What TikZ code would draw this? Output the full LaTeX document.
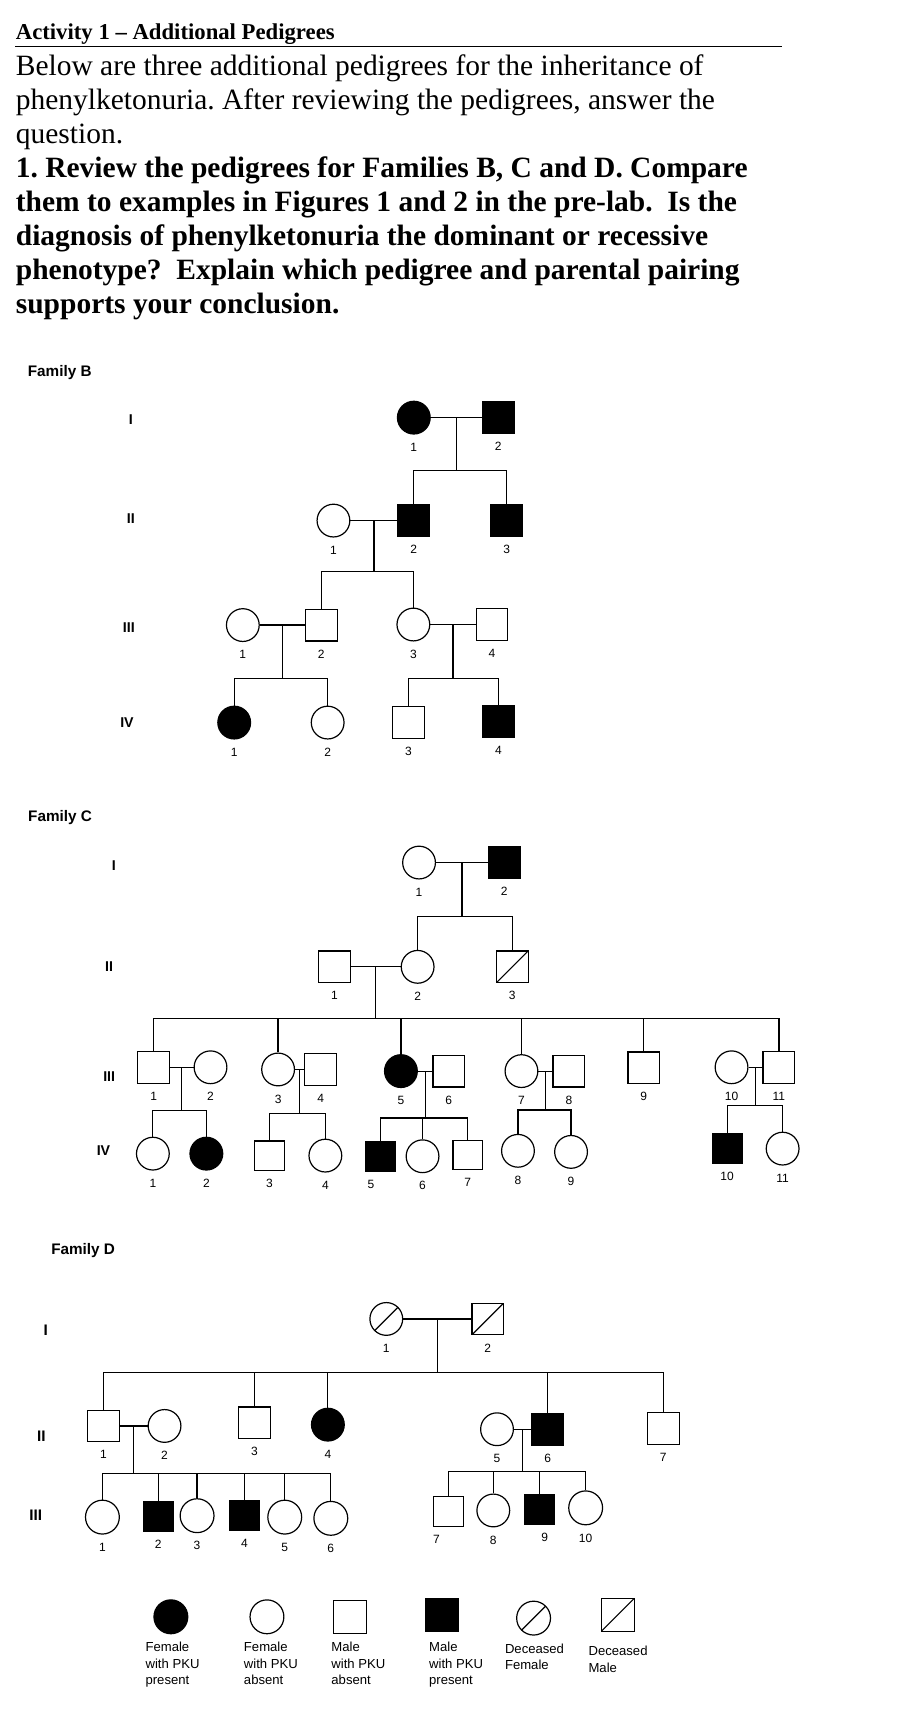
\documentclass[tikz,border=0pt]{standalone}
\usepackage{fontspec}
\setmainfont{Liberation Serif}
\setsansfont{Liberation Sans}
\usepackage{tikz}
\frenchspacing

\begin{document}
\begin{tikzpicture}[
    x=1pt, y=-1pt,
    line width=1.1pt,
    label distance=6pt,
    fem/.style={
        circle,
        draw=black,
        minimum size=30pt,
        inner sep=0pt,
    },
    mal/.style={
        rectangle,
        draw=black,
        minimum size=29pt,
        inner sep=0pt,
    },
    aff/.style={fill=black},
    sm/.style={minimum size=27pt},
    big/.style={minimum size=31pt},
    dec/.style={
        path picture={\draw (path picture bounding box.south west) -- (path picture bounding box.north east);},
    },
    idnum/.style={font=\sffamily\fontsize{11}{13}\selectfont, inner sep=1pt},
    n/.style={label={[idnum]below:#1}},
    gen/.style={font=\sffamily\bfseries\fontsize{13}{15}\selectfont, inner sep=0pt},
    famlabel/.style={font=\sffamily\bfseries\fontsize{14}{16}\selectfont, anchor=west, inner sep=0pt},
    keytext/.style={font=\sffamily\fontsize{12}{15.5}\selectfont, align=left, anchor=north west, inner sep=0pt},
    txt/.style={anchor=base west, inner sep=0pt, font=\fontsize{27}{31}\selectfont},
]
\fill[white] (0,0) rectangle (822,1568);
\useasboundingbox (0,0) rectangle (822,1568);

\node[anchor=base west, inner sep=0pt, font=\fontsize{20.8}{24}\selectfont\bfseries] (title) at (14,36) {Activity 1 -- Additional Pedigrees};
\draw[line width=1.4pt] (14,42.8) -- (716,42.8);
\node[txt] (intro1) at (14,69) {Below are three additional pedigrees for the inheritance of};
\node[txt] (intro2) at (14,100) {phenylketonuria. After reviewing the pedigrees, answer the};
\node[txt] (intro3) at (14,131) {question.};
\node[txt,font=\fontsize{27}{31}\selectfont\bfseries] (q1) at (14,163) {1. Review the pedigrees for Families B, C and D. Compare};
\node[txt,font=\fontsize{27}{31}\selectfont\bfseries] (q2) at (14,194) {them to examples in Figures 1 and 2 in the pre-lab.\ \ Is the};
\node[txt,font=\fontsize{27}{31}\selectfont\bfseries] (q3) at (14,225) {diagnosis of phenylketonuria the dominant or recessive};
\node[txt,font=\fontsize{27}{31}\selectfont\bfseries] (q4) at (14,256) {phenotype?\ \ Explain which pedigree and parental pairing};
\node[txt,font=\fontsize{27}{31}\selectfont\bfseries] (q5) at (14,287) {supports your conclusion.};

\node[famlabel] (famB) at (25,341.5) {Family B};
\node[gen] (bgI) at (119.8,384.3) {I};
\node[gen] (bgII) at (119.8,475) {II};
\node[gen] (bgIII) at (118,575) {III};
\node[gen] (bgIV) at (116.3,661.4) {IV};

\node[fem,aff,n=1] (bI1) at (379,382.5) {};
\node[mal,aff,n=2] (bI2) at (456.3,382.5) {};
\node[fem,n=1] (bII1) at (305.4,476.8) {};
\node[mal,aff,n=2] (bII2) at (379,476.8) {};
\node[mal,aff,n=3] (bII3) at (464,476.8) {};
\node[fem,n=1] (bIII1) at (222.4,572.5) {};
\node[mal,n=2] (bIII2) at (294.3,572.5) {};
\node[fem,n=3] (bIII3) at (378.6,572) {};
\node[mal,n=4] (bIII4) at (450.6,572) {};
\node[fem,aff,n=1] (bIV1) at (214.5,661.8) {};
\node[fem,n=2] (bIV2) at (300.1,661.8) {};
\node[mal,n=3] (bIV3) at (374.2,661.8) {};
\node[mal,aff,n=4] (bIV4) at (456.5,660.5) {};

\draw (bI1) -- coordinate (bm1) (bI2);
\draw (bm1) -- (bm1 |- 0,430.7) coordinate (bs1);
\foreach \c in {bII2,bII3} \draw (\c.north) |- (bs1);
\draw (bII1) -- coordinate (bm2) (bII2);
\draw (bm2) -- (bm2 |- 0,523.3) coordinate (bs2);
\foreach \c in {bIII2,bIII3} \draw (\c.north) |- (bs2);
\draw (bIII1) -- coordinate (bm3) (bIII2);
\draw (bm3) -- (bm3 |- 0,621.6) coordinate (bs3);
\foreach \c in {bIV1,bIV2} \draw (\c.north) |- (bs3);
\draw (bIII3) -- coordinate (bm4) (bIII4);
\draw (bm4) -- (bm4 |- 0,621.6) coordinate (bs4);
\foreach \c in {bIV3,bIV4} \draw (\c.north) |- (bs4);

\node[famlabel] (famC) at (25.3,748.4) {Family C};
\node[gen] (cgI) at (104.3,792.7) {I};
\node[gen] (cgII) at (100,885) {II};
\node[gen] (cgIII) at (100,986) {III};
\node[gen] (cgIV) at (94.8,1054) {IV};

\node[fem,n=1] (cI1) at (383.8,790) {};
\node[mal,aff,n=2] (cI2) at (461.8,790) {};
\node[mal,n=1] (cII1) at (306.4,885.5) {};
\node[fem,n=2] (cII2) at (382.5,885.5) {};
\node[mal,dec,n=3] (cII3) at (469.2,885.5) {};
\node[mal,n=1] (cIII1) at (140.7,977.5) {};
\node[fem,n=2] (cIII2) at (192.8,977.5) {};
\node[fem,n=3] (cIII3) at (254.7,979.5) {};
\node[mal,n=4] (cIII4) at (293.7,979.5) {};
\node[fem,aff,n=5] (cIII5) at (367.2,981) {};
\node[mal,n=6] (cIII6) at (411,981) {};
\node[fem,n=7] (cIII7) at (477.6,981) {};
\node[mal,n=8] (cIII8) at (521,981) {};
\node[mal,n=9] (cIII9) at (589.6,978) {};
\node[fem,n=10] (cIII10) at (670,977.5) {};
\node[mal,n=11] (cIII11) at (713.4,977.5) {};
\node[fem,n=1] (cIV1) at (140,1056.6) {};
\node[fem,aff,n=2] (cIV2) at (189,1056.6) {};
\node[mal,sm,n=3] (cIV3) at (246.8,1058.6) {};
\node[fem,n=4] (cIV4) at (298,1058.4) {};
\node[mal,aff,sm,label={[idnum,xshift=-9pt]below:5}] (cIV5) at (348.8,1059) {};
\node[fem,n=6] (cIV6) at (387,1059) {};
\node[mal,sm,n=7] (cIV7) at (428.4,1057.8) {};
\node[fem,n=8] (cIV8) at (474.4,1054) {};
\node[fem,n=9] (cIV9) at (523,1055) {};
\node[mal,aff,sm,n=10] (cIV10) at (666,1052) {};
\node[fem,n=11] (cIV11) at (716.8,1052) {};

\draw (cI1) -- coordinate (cm1) (cI2);
\draw (cm1) -- (cm1 |- 0,839.5) coordinate (cs1);
\foreach \c in {cII2,cII3} \draw (\c.north) |- (cs1);
\draw (cII1) -- coordinate (cm2) (cII2);
\draw (cm2) -- (cm2 |- 0,932.6) coordinate (cs2);
\foreach \c in {cIII1,cIII3,cIII5,cIII7,cIII9,cIII11} \draw (\c.north) |- (cs2);
\draw (cIII1) -- coordinate (cm3) (cIII2);
\draw (cm3) -- (cm3 |- 0,1017) coordinate (cs3);
\foreach \c in {cIV1,cIV2} \draw (\c.north) |- (cs3);
\draw (cIII3) -- coordinate (cm4) (cIII4);
\draw (cm4) -- (cm4 |- 0,1019.7) coordinate (cs4);
\foreach \c in {cIV3,cIV4} \draw (\c.north) |- (cs4);
\draw (cIII5) -- coordinate (cm5) (cIII6);
\draw (cm5) -- (cm5 |- 0,1024) coordinate (cs5);
\foreach \c in {cIV5,cIV6,cIV7} \draw (\c.north) |- (cs5);
\draw (cIII7) -- coordinate (cm6) (cIII8);
\draw (cm6) -- (cm6 |- 0,1016.6) coordinate (cs6);
\foreach \c in {cIV8,cIV9} \draw (\c.north) |- (cs6);
\draw (cIII10) -- coordinate (cm7) (cIII11);
\draw (cm7) -- (cm7 |- 0,1012.7) coordinate (cs7);
\foreach \c in {cIV10,cIV11} \draw (\c.north) |- (cs7);

\node[famlabel] (famD) at (46.4,1145.5) {Family D};
\node[gen,font=\sffamily\bfseries\fontsize{14}{16}\selectfont] (dgI) at (42,1218.2) {I};
\node[gen,font=\sffamily\bfseries\fontsize{14}{16}\selectfont] (dgII) at (38,1315) {II};
\node[gen,font=\sffamily\bfseries\fontsize{14}{16}\selectfont] (dgIII) at (32.7,1387.5) {III};

\node[fem,dec,n=1] (dI1) at (353.8,1208) {};
\node[mal,dec,n=2] (dI2) at (446.8,1208) {};
\node[mal,n=1] (dII1) at (94.8,1306) {};
\node[fem,n=2] (dII2) at (150.7,1306) {};
\node[mal,n=3] (dII3) at (233.1,1303.2) {};
\node[fem,aff,n=4] (dII4) at (300.3,1304.8) {};
\node[fem,n=5] (dII5) at (455.2,1309) {};
\node[mal,aff,n=6] (dII6) at (501.6,1309) {};
\node[mal,n=7] (dII7) at (607.5,1308.5) {};
\node[fem,big,n=1] (dIII1) at (93.8,1389.5) {};
\node[mal,aff,sm,n=2] (dIII2) at (144.9,1388.7) {};
\node[fem,big,n=3] (dIII3) at (180.5,1388.2) {};
\node[mal,aff,sm,n=4] (dIII4) at (223.9,1387.8) {};
\node[fem,big,n=5] (dIII5) at (260.8,1389.5) {};
\node[fem,big,n=6] (dIII6) at (303,1390.6) {};
\node[mal,sm,label={[idnum,xshift=-11pt]below:7}] (dIII7) at (410.7,1384.4) {};
\node[fem,n=8] (dIII8) at (451.8,1383.4) {};
\node[mal,aff,sm,label={[idnum,xshift=5pt]below:9}] (dIII9) at (494,1382.6) {};
\node[fem,big,n=10] (dIII10) at (536.4,1381) {};

\draw (dI1) -- coordinate (dm1) (dI2);
\draw (dm1) -- (dm1 |- 0,1257) coordinate (ds1);
\foreach \c in {dII1,dII3,dII4,dII6,dII7} \draw (\c.north) |- (ds1);
\draw (dII1) -- coordinate (dm2) (dII2);
\draw (dm2) -- (dm2 |- 0,1349.3) coordinate (ds2);
\foreach \c in {dIII1,dIII2,dIII3,dIII4,dIII5,dIII6} \draw (\c.north) |- (ds2);
\draw (dII5) -- coordinate (dm3) (dII6);
\draw (dm3) -- (dm3 |- 0,1347.8) coordinate (ds3);
\foreach \c in {dIII7,dIII8,dIII9,dIII10} \draw (\c.north) |- (ds3);

\node[fem,aff,big] (lfa) at (156.5,1480.8) {};
\node[fem,big] (lfn) at (244.5,1480.8) {};
\node[mal,minimum size=30pt] (lmn) at (320.6,1480.9) {};
\node[mal,aff,minimum size=30pt] (lma) at (404.9,1479) {};
\node[fem,dec,big] (lfd) at (488.7,1482) {};
\node[mal,dec,minimum size=30pt] (lmd) at (565.8,1479) {};
\node[keytext] (ltfa) at (132.8,1503) {Female\\with PKU\\present};
\node[keytext] (ltfn) at (222.9,1503) {Female\\with PKU\\absent};
\node[keytext] (ltmn) at (303,1503) {Male\\with PKU\\absent};
\node[keytext] (ltma) at (392.5,1503) {Male\\with PKU\\present};
\node[keytext] (ltfd) at (462,1504.7) {Deceased\\Female};
\node[keytext] (ltmd) at (538.5,1507) {Deceased\\Male};
\end{tikzpicture}
\end{document}
